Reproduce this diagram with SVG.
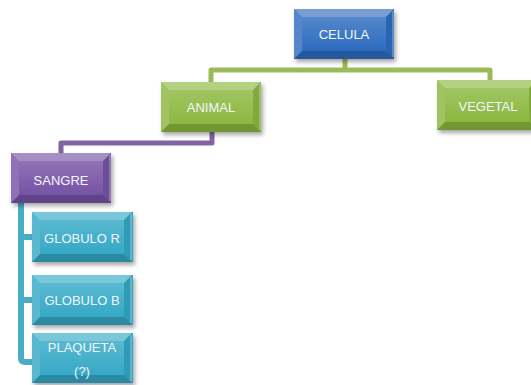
<svg xmlns="http://www.w3.org/2000/svg" xmlns:xlink="http://www.w3.org/1999/xlink" width="531" height="385" viewBox="0 0 531 385">
<style>
.t{font-family:"Liberation Sans",Arial,sans-serif;font-size:13px;fill:#f2f6fb;text-anchor:middle}
.c{fill:none;stroke-linejoin:round}
</style>
<defs>
<filter id="sh" x="-20%" y="-20%" width="150%" height="160%">
<feGaussianBlur in="SourceAlpha" stdDeviation="2"/>
<feOffset dx="2" dy="3" result="b"/>
<feComponentTransfer><feFuncA type="linear" slope="0.35"/></feComponentTransfer>
<feMerge><feMergeNode/><feMergeNode in="SourceGraphic"/></feMerge>
</filter>
<linearGradient id="gl" x1="0" y1="0" x2="0" y2="1">
<stop offset="0" stop-color="#fff" stop-opacity="0.18"/>
<stop offset="1" stop-color="#fff" stop-opacity="0"/>
</linearGradient>
<g id="bev">
<polygon points="0,0 100,0 92,8 8,8" fill="#fff" fill-opacity="0.35"/>
<polygon points="0,0 8,8 8,42 0,50" fill="#fff" fill-opacity="0.18"/>
<polygon points="0,50 8,42 92,42 100,50" fill="#000" fill-opacity="0.18"/>
<polygon points="100,0 100,50 92,42 92,8" fill="#000" fill-opacity="0.08"/>
<rect x="8" y="8" width="84" height="34" fill="url(#gl)"/>
<line x1="99" y1="2" x2="99" y2="48" stroke="#fff" stroke-opacity="0.5" stroke-width="1"/>
</g>
</defs>
<g id="connectors">
<path class="c" d="M345,59 V70 M211,82 V70 H490 V80" stroke="#9bbb59" stroke-width="5"/>
<path class="c" d="M212,132 V143 H61 V153" stroke="#8064a2" stroke-width="5"/>
<path class="c" d="M21,203 V358 Q21,362 25,362 H32 M21,237 H32 M21,300 H32" stroke="#4bacc6" stroke-width="6"/>
</g>
<g id="celula" transform="translate(294,9)">
<rect width="100" height="50" fill="#2f6cbf" filter="url(#sh)"/>
<use xlink:href="#bev"/>
<text class="t" x="50" y="30">CELULA</text>
</g>
<g id="animal" transform="translate(161,82)">
<rect width="100" height="50" fill="#8cb840" filter="url(#sh)"/>
<use xlink:href="#bev"/>
<text class="t" x="50" y="30">ANIMAL</text>
</g>
<g id="vegetal" transform="translate(437,80)">
<rect width="100" height="50" fill="#8cb840" filter="url(#sh)"/>
<use xlink:href="#bev"/>
<text class="t" x="51" y="31">VEGETAL</text>
</g>
<g id="sangre" transform="translate(11,153)">
<rect width="100" height="50" fill="#7753a6" filter="url(#sh)"/>
<use xlink:href="#bev"/>
<text class="t" x="50" y="32">SANGRE</text>
</g>
<g id="globulo-r" transform="translate(32,212)">
<rect width="101" height="50" fill="#35a9c6" filter="url(#sh)"/>
<use xlink:href="#bev"/>
<text class="t" x="50" y="31">GLOBULO R</text>
</g>
<g id="globulo-b" transform="translate(32,275)">
<rect width="101" height="50" fill="#35a9c6" filter="url(#sh)"/>
<use xlink:href="#bev"/>
<text class="t" x="50" y="30">GLOBULO B</text>
</g>
<g id="plaqueta" transform="translate(32,333)">
<rect width="101" height="50" fill="#35a9c6" filter="url(#sh)"/>
<use xlink:href="#bev"/>
<text class="t" x="50" y="19">PLAQUETA</text>
<text class="t" x="50" y="43">(?)</text>
</g>
</svg>
